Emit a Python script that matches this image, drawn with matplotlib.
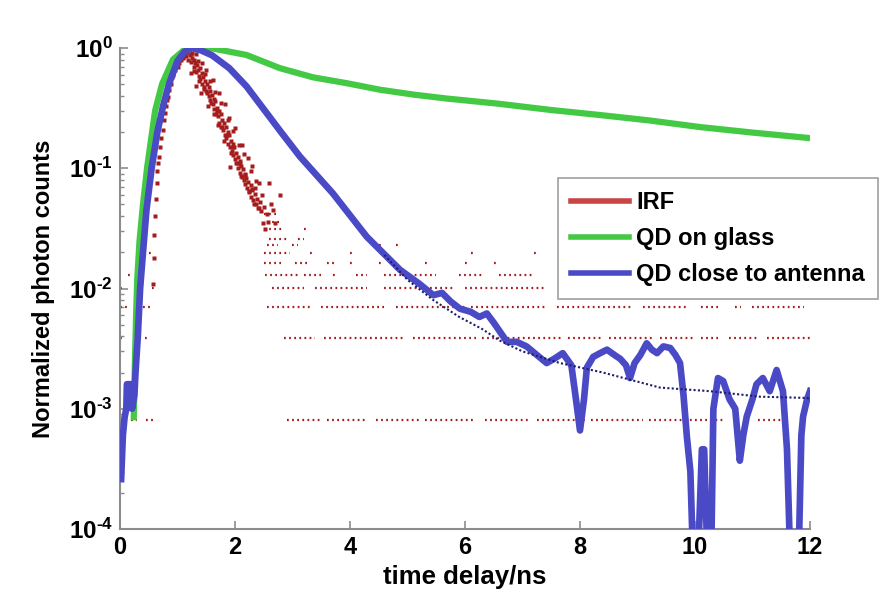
import numpy as np
import matplotlib
matplotlib.use("Agg")
import matplotlib.pyplot as plt
from matplotlib.lines import Line2D

plt.rcParams["font.family"] = ["Liberation Sans", "DejaVu Sans"]
plt.rcParams["font.weight"] = "bold"
plt.rcParams["mathtext.fontset"] = "custom"
plt.rcParams["mathtext.rm"] = "Liberation Sans:bold"
plt.rcParams["mathtext.bf"] = "Liberation Sans:bold"
plt.rcParams["mathtext.default"] = "bf"

# QD on glass (green)
glass_t = [0.24, 0.26, 0.28, 0.30, 0.34, 0.40, 0.47, 0.61, 0.73, 0.92, 1.10, 1.30, 1.62,
           2.20, 2.78, 3.36, 3.94, 4.52, 5.10, 5.68, 6.56, 7.50, 8.35, 9.20, 10.09, 11.00, 11.95]
glass_v = [8.5e-4, 2.5e-3, 6e-3, 1.2e-2, 2.5e-2, 5e-2, 0.10, 0.30, 0.50, 0.80, 0.95, 1.0, 0.99,
           0.875, 0.68, 0.57, 0.51, 0.45, 0.41, 0.38, 0.345, 0.305, 0.277, 0.25, 0.22, 0.198, 0.179]

# QD close to antenna (blue)
ant_t = [0.02, 0.05, 0.08, 0.11, 0.12, 0.20, 0.21, 0.25, 0.27, 0.31, 0.35, 0.40, 0.46, 0.55,
         0.65, 0.75, 0.85, 1.00, 1.12, 1.25, 1.40, 1.60, 1.90, 2.20, 2.50, 2.80, 3.13, 3.70,
         4.29, 4.87, 5.20, 5.45, 5.60, 5.75, 5.91, 6.10, 6.25, 6.38, 6.50, 6.73, 6.90, 7.07,
         7.25, 7.42, 7.55, 7.70, 7.85, 7.93, 8.00, 8.07, 8.12, 8.23, 8.35, 8.47, 8.60, 8.70,
         8.80, 8.87, 8.95, 9.05, 9.16, 9.25, 9.34, 9.45, 9.57, 9.66, 9.74, 9.80, 9.86, 9.92,
         9.97, 10.05, 10.12, 10.16, 10.22, 10.28, 10.32, 10.40, 10.49, 10.60, 10.70, 10.78,
         10.84, 10.90, 11.00, 11.07, 11.18, 11.30, 11.42, 11.53, 11.60, 11.66, 11.72, 11.80,
         11.85, 11.88, 11.95, 12.00]
ant_v = [2.6e-4, 6e-4, 8.5e-4, 1.0e-3, 1.6e-3, 1.6e-3, 1.0e-3, 1.3e-3, 2e-3, 4e-3, 1e-2, 2e-2,
         4.5e-2, 0.10, 0.20, 0.33, 0.50, 0.78, 0.93, 1.0, 0.96, 0.87, 0.68, 0.48, 0.31, 0.20,
         0.125, 0.062, 0.027, 0.0143, 0.011, 0.0088, 0.0092, 0.0078, 0.0068, 0.0064, 0.0058,
         0.0062, 0.0052, 0.0036, 0.0036, 0.0033, 0.0028, 0.0024, 0.0026, 0.0029, 0.0023,
         0.0012, 0.00066, 0.0012, 0.0022, 0.0027, 0.0029, 0.0031, 0.0028, 0.0026, 0.0023,
         0.0018, 0.0024, 0.0028, 0.0035, 0.0031, 0.0029, 0.0033, 0.0032, 0.0028, 0.0024,
         0.0013, 0.00058, 0.0003, 5e-5, 5e-5, 4.6e-4, 4.6e-4, 5e-5, 5e-5, 0.001, 0.0018,
         0.0017, 0.0012, 0.001, 3.7e-4, 6e-4, 8.6e-4, 0.0012, 0.0016, 0.0018, 0.0014, 0.0021,
         0.0014, 4.6e-4, 5e-5, 5e-5, 5e-5, 6e-4, 8.6e-4, 0.0012, 0.0014]

# raw antenna data underneath (dark navy dots)
raw_t = [4.6, 5.0, 5.45, 5.9, 6.3, 6.6, 7.0, 7.65, 8.4, 9.39, 10.26, 11.13, 11.95, 12.0]
raw_v = [0.019, 0.0118, 0.0080, 0.0058, 0.0046, 0.0037, 0.0030, 0.0024, 0.0020, 0.0015,
         0.0014, 0.00126, 0.00123, 0.0012]

# IRF: rising edge, peak and the decaying cloud of points
irf_t = [0.58, 0.59, 0.60, 0.61, 0.62, 0.64, 0.65, 0.66, 0.68, 0.70, 0.72, 0.74, 0.76, 0.78,
         0.80, 0.82, 0.84, 0.86, 0.88, 0.91, 0.93, 0.96, 0.99, 1.01, 1.03, 1.06, 1.09, 1.10,
         1.12, 1.14, 1.15,
         1.17, 1.19, 1.21, 1.23, 1.24, 1.26, 1.28, 1.29, 1.31, 1.33, 1.34, 1.36, 1.37, 1.39,
         1.40, 1.42, 1.43, 1.45, 1.46, 1.48, 1.49, 1.51, 1.52, 1.54, 1.55, 1.57, 1.58, 1.60,
         1.61, 1.63, 1.64, 1.66, 1.67, 1.69, 1.70, 1.72, 1.73, 1.75, 1.76, 1.78, 1.79, 1.81,
         1.82, 1.84, 1.85, 1.87, 1.88, 1.90, 1.91, 1.93, 1.94, 1.96, 1.97, 1.99, 2.00, 2.02,
         2.03, 2.05, 2.06, 2.08, 2.09, 2.11, 2.12, 2.14, 2.15, 2.17, 2.18, 2.20, 2.21, 2.23,
         2.25, 2.27, 2.28, 2.30, 2.32, 2.34, 2.36, 2.38, 2.40, 2.43, 2.46, 2.50, 2.55,
         1.25, 1.32, 1.35, 1.42, 1.47, 1.50, 1.57, 1.62, 1.65, 1.72, 1.75, 1.82, 1.87, 1.90,
         1.97, 2.00, 2.07, 2.12, 2.15, 2.22, 2.27, 2.30, 2.37, 2.42, 2.47,
         1.23, 1.28, 1.33, 1.38, 1.41, 1.46, 1.53, 1.56, 1.63, 1.68, 1.71, 1.78, 1.81, 1.86,
         1.93, 1.96, 2.01, 2.08, 2.11, 2.18, 2.24, 2.29, 2.33, 2.41, 2.48,
         1.91, 2.60, 2.78, 2.35, 2.62, 2.58, 2.66, 2.52, 2.70]
irf_v = [0.011, 0.018, 0.028, 0.04, 0.055, 0.075, 0.095, 0.11, 0.124, 0.15, 0.18, 0.21, 0.25,
         0.29, 0.33, 0.37, 0.39, 0.45, 0.50, 0.57, 0.60, 0.66, 0.72, 0.70, 0.75, 0.80, 0.84,
         0.82, 0.88, 0.86, 0.92,
         0.93, 0.80, 0.88, 0.76, 0.90, 0.82, 0.70, 0.79, 0.75, 0.63, 0.72, 0.66, 0.58, 0.68,
         0.55, 0.62, 0.50, 0.57, 0.47, 0.53, 0.44, 0.50, 0.42, 0.47, 0.40, 0.44, 0.35, 0.41,
         0.34, 0.38, 0.31, 0.36, 0.28, 0.32, 0.27, 0.30, 0.24, 0.28, 0.22, 0.25, 0.21, 0.24,
         0.19, 0.22, 0.18, 0.20, 0.16, 0.19, 0.15, 0.17, 0.14, 0.16, 0.13, 0.15, 0.12, 0.135,
         0.11, 0.125, 0.10, 0.115, 0.092, 0.105, 0.085, 0.098, 0.080, 0.090, 0.074, 0.083,
         0.068, 0.077, 0.063, 0.072, 0.058, 0.066, 0.054, 0.061, 0.050, 0.056, 0.047, 0.052,
         0.044, 0.048, 0.042,
         0.91, 0.90, 0.78, 0.75, 0.61, 0.66, 0.53, 0.54, 0.43, 0.42, 0.35, 0.34, 0.25, 0.26,
         0.205, 0.215, 0.155, 0.156, 0.132, 0.122, 0.095, 0.104, 0.078, 0.075, 0.060,
         0.62, 0.64, 0.48, 0.53, 0.42, 0.46, 0.33, 0.37, 0.28, 0.30, 0.23, 0.22, 0.17, 0.19,
         0.133, 0.15, 0.11, 0.109, 0.086, 0.088, 0.065, 0.067, 0.050, 0.047, 0.035,
         0.103, 0.075, 0.060, 0.068, 0.050, 0.036, 0.045, 0.031, 0.035]

# IRF at low counts: quantised levels and the time spans where dots appear
irf_levels = [8.0e-4, 3.9e-3, 7.0e-3, 1.01e-2, 1.29e-2, 1.63e-2, 1.97e-2, 2.3e-2, 2.6e-2,
              3.1e-2, 3.6e-2, 4.2e-2]
irf_spans = [
    [(0.2, 0.3), (0.45, 0.57), (2.9, 3.5), (3.6, 4.3), (4.45, 5.2), (5.3, 6.2), (6.35, 7.1),
     (7.25, 8.1), (8.2, 9.1), (9.2, 10.5), (11.1, 11.55)],
    [(0.0, 0.07), (0.43, 0.52), (2.85, 3.4), (3.55, 4.95), (5.1, 6.2), (6.3, 7.7), (7.8, 8.4),
     (8.5, 9.3), (9.4, 10.0), (10.1, 10.4), (10.6, 11.1), (11.25, 12.0)],
    [(0.0, 0.17), (0.4, 0.55), (2.55, 3.3), (3.5, 4.6), (4.8, 6.0), (6.1, 7.4), (7.6, 8.9),
     (9.1, 9.9), (10.1, 10.4), (10.7, 10.8), (11.0, 11.9)],
    [(0.0, 0.09), (0.55, 0.64), (2.64, 3.2), (3.4, 4.3), (4.6, 5.8), (6.0, 7.4)],
    [(0.14, 0.23), (2.52, 3.1), (3.2, 3.5), (3.7, 3.8), (4.1, 4.3), (4.6, 5.5), (5.9, 6.3),
     (6.6, 7.2)],
    [(2.5, 2.8), (3.05, 3.25), (3.6, 3.75), (4.0, 4.05), (4.5, 4.55), (5.3, 5.35), (6.0, 6.05),
     (6.5, 6.55)],
    [(0.5, 0.6), (2.5, 2.95), (3.3, 3.4), (4.0, 4.05), (6.1, 6.15), (7.2, 7.25)],
    [(2.55, 2.75), (3.0, 3.1), (4.5, 4.55), (4.8, 4.85)],
    [(2.6, 2.9), (3.1, 3.2)],
    [(2.5, 2.85), (3.2, 3.25)],
    [(2.55, 2.8)],
    [(2.5, 2.75)],
]

x_ticks = [0, 2, 4, 6, 8, 10, 12]
y_ticks = [1e-4, 1e-3, 1e-2, 1e-1, 1e0]
y_ticklabels = [r"$10^{\text{-}4}$", r"$10^{\text{-}3}$", r"$10^{\text{-}2}$",
                r"$10^{\text{-}1}$", r"$10^{0}$"]
legend_labels = ["IRF", "QD on glass", "QD close to antenna"]

dot_red = "#a51c1c"
green = "#44c944"
blue = "#4a4ac6"
navy = "#1d1d6a"

fig = plt.figure(figsize=(8.83, 5.97), dpi=100)
ax = fig.add_axes([0.1359, 0.1139, 0.7814, 0.8057])

# IRF dots
for lv, spans in zip(irf_levels, irf_spans):
    for a, b in spans:
        ax.plot([a, b], [lv, lv], color=dot_red, lw=1.6, ls=(0, (0.8, 1.5)),
                dash_capstyle="butt", zorder=2)
ax.plot(irf_t, irf_v, ls="none", marker="s", ms=2.2, mec="none", mfc=dot_red, zorder=2)

ax.plot(glass_t, glass_v, color=green, lw=4.5, zorder=3)
ax.plot(ant_t, ant_v, color=blue, lw=4.8, zorder=4)
ax.plot(raw_t, raw_v, color=navy, lw=1.5, ls=(0, (1, 1.1)), zorder=5)

ax.set_yscale("log")
ax.set_xlim(0, 12)
ax.set_ylim(1e-4, 1)
ax.set_xticks(x_ticks)
ax.set_xticklabels([str(v) for v in x_ticks], fontsize=17, fontweight="bold")
ax.set_yticks(y_ticks)
ax.set_yticklabels(y_ticklabels, fontsize=17.5)

for side in ["top", "right"]:
    ax.spines[side].set_visible(False)
for side in ["left", "bottom"]:
    ax.spines[side].set_color("#8c8c8c")
    ax.spines[side].set_linewidth(1.5)
ax.tick_params(axis="both", which="major", direction="in", length=6, width=1.2,
               color="#8c8c8c", pad=5)
ax.tick_params(axis="y", which="minor", direction="in", length=3, width=1.0, color="#8c8c8c")

ax.set_xlabel("time delay/ns", fontsize=18.5, fontweight="bold", labelpad=4)
ax.set_ylabel("Normalized photon counts", fontsize=17, fontweight="bold", labelpad=10)

handles = [Line2D([], [], color="#c94545", lw=4),
           Line2D([], [], color=green, lw=4),
           Line2D([], [], color=blue, lw=4)]
leg = ax.legend(handles, legend_labels, loc="upper left", bbox_to_anchor=(0.635, 0.73),
                borderaxespad=0, prop={"weight": "bold", "size": 17}, handlelength=2.45,
                handletextpad=0.3, labelspacing=0.55, borderpad=0.55, fancybox=False,
                framealpha=1, edgecolor="#a0a0a0")
leg.get_frame().set_linewidth(1.2)
leg.set_zorder(10)

fig.savefig("out.png", dpi=100)
